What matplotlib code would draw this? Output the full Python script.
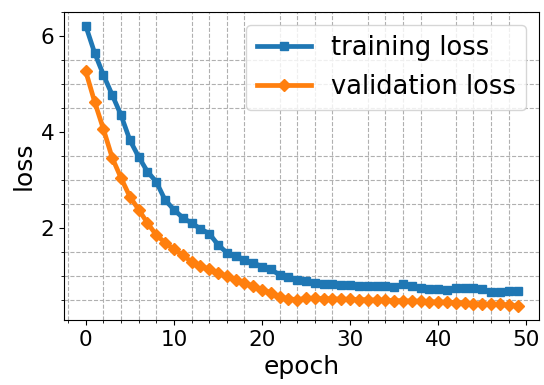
import matplotlib
matplotlib.use("Agg")
import matplotlib.pyplot as plt
import numpy as np
from matplotlib.ticker import AutoMinorLocator, MultipleLocator

# values
epochs = list(range(50))
training_loss = [
    6.21, 5.65, 5.19, 4.77, 4.35, 3.83, 3.48, 3.17, 2.96, 2.58,
    2.38, 2.21, 2.10, 1.98, 1.88, 1.65, 1.48, 1.42, 1.33, 1.27,
    1.19, 1.13, 1.02, 0.98, 0.92, 0.88, 0.85, 0.83, 0.82, 0.81,
    0.80, 0.79, 0.79, 0.78, 0.78, 0.77, 0.82, 0.78, 0.75, 0.73,
    0.72, 0.71, 0.75, 0.75, 0.74, 0.72, 0.66, 0.67, 0.68, 0.69,
]
validation_loss = [
    5.26, 4.63, 4.06, 3.46, 3.04, 2.65, 2.38, 2.10, 1.85, 1.69,
    1.55, 1.43, 1.29, 1.21, 1.13, 1.06, 0.99, 0.92, 0.85, 0.78,
    0.71, 0.65, 0.56, 0.52, 0.50, 0.53, 0.53, 0.52, 0.52, 0.51,
    0.51, 0.50, 0.50, 0.49, 0.49, 0.48, 0.48, 0.47, 0.47, 0.46,
    0.45, 0.45, 0.44, 0.43, 0.42, 0.41, 0.40, 0.40, 0.39, 0.37,
]

plt.rcParams["font.size"] = 15.5

fig = plt.figure(figsize=(5.44, 3.85), dpi=100)
ax = fig.add_axes([0.118, 0.169, 0.873, 0.800])

ax.plot(epochs, training_loss, color="#1f77b4", marker="s", markersize=6,
        linewidth=3.4, label="training loss")
ax.plot(epochs, validation_loss, color="#ff7f0e", marker="D", markersize=6,
        linewidth=3.4, label="validation loss")

ax.xaxis.set_major_locator(MultipleLocator(10))
ax.xaxis.set_minor_locator(AutoMinorLocator(5))
ax.yaxis.set_major_locator(MultipleLocator(2))
ax.yaxis.set_minor_locator(AutoMinorLocator(4))
ax.grid(which="minor", linestyle="--", color="#b0b0b0", linewidth=0.8)

ax.set_xlabel("epoch", fontsize=18, labelpad=4)
ax.set_ylabel("loss", fontsize=18, labelpad=4)
ax.legend(loc="upper right", fontsize=18.5, handlelength=2.1)

fig.savefig("out.png", dpi=100)
